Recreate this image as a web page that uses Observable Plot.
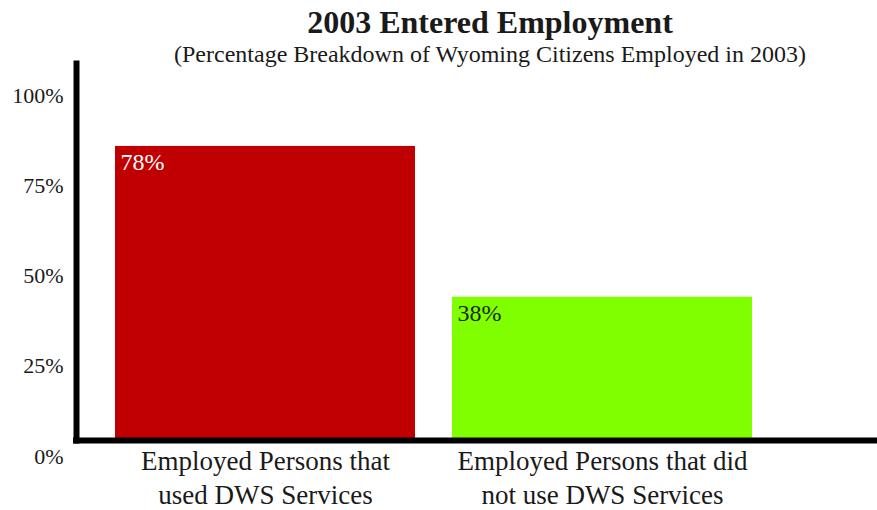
<!DOCTYPE html>
<html>
<head>
<meta charset="utf-8">
<script src="https://cdn.jsdelivr.net/npm/d3@7"></script>
<script src="https://cdn.jsdelivr.net/npm/@observablehq/plot@0.6"></script>
<style>
  body { margin: 0; background: #fff; }
  #wrap { position: relative; width: 877px; height: 510px; font-family: "Liberation Serif", "DejaVu Serif", serif; color: #1a1a1a; }
  #wrap svg { position: absolute; left: 0; top: 0; }
  .title { position: absolute; z-index: 2; left: 490px; transform: translateX(-50%); white-space: nowrap; line-height: 1; }
  #t1 { top: 6px; font-size: 32px; font-weight: bold; }
  #t2 { top: 42px; font-size: 24px; }
</style>
</head>
<body>
<div id="wrap">
  <div class="title" id="t1">2003 Entered Employment</div>
  <div class="title" id="t2">(Percentage Breakdown of Wyoming Citizens Employed in 2003)</div>
</div>
<script>
// ---- data ----
const categories = ["Employed Persons that used DWS Services", "Employed Persons that did not use DWS Services"];
const xTickLabels = ["Employed Persons that\nused DWS Services", "Employed Persons that did\nnot use DWS Services"];
const values = [78, 38];
const valueLabels = ["78%", "38%"];
const yTicks = [0, 25, 50, 75, 100];
const yTickLabels = ["0%", "25%", "50%", "75%", "100%"];

const data = categories.map((c, i) => ({category: c, value: values[i], label: valueLabels[i]}));
const wrap = document.getElementById("wrap");

const main = Plot.plot({
  width: 877,
  height: 510,
  marginLeft: 76,
  marginRight: 0,
  marginTop: 63,
  marginBottom: 70,
  style: {fontFamily: "Liberation Serif", fontSize: "24px", color: "#1a1a1a", background: "white"},
  x: {domain: categories, range: [115, 752], paddingInner: 0.11, paddingOuter: 0, label: null},
  y: {domain: [0, 100], range: [440, 63], axis: null},
  color: {domain: categories, range: ["#c00000", "#80ff00"]},
  marks: [
    Plot.barY(data, {x: "category", y: "value", fill: "category"}),
    Plot.text(data, {
      x: "category", y: "value", text: "label",
      textAnchor: "start", lineAnchor: "top", dx: -145, dy: 7,
      fontSize: 24,
      fill: d => d.category === categories[0] ? "#ffffff" : "#1a2a00"
    }),
    Plot.frame({anchor: "left", stroke: "#000", strokeWidth: 6}),
    Plot.ruleY([0], {stroke: "#000", strokeWidth: 6, strokeLinecap: "square"}),
    Plot.axisX({
      tickSize: 0, tickPadding: 5, fontSize: 27, lineHeight: 1.27, label: null,
      tickFormat: d => xTickLabels[categories.indexOf(d)]
    })
  ]
});
wrap.insertBefore(main, wrap.firstChild);

const yAxisPlot = Plot.plot({
  width: 877,
  height: 510,
  marginLeft: 76,
  marginRight: 0,
  marginTop: 63,
  marginBottom: 50,
  style: {fontFamily: "Liberation Serif", fontSize: "22px", color: "#1a1a1a", background: "transparent"},
  y: {domain: [0, 100], range: [456, 95], label: null},
  marks: [
    Plot.axisY({
      ticks: yTicks, tickSize: 0, tickPadding: 13, fontSize: 22, label: null,
      tickFormat: d => yTickLabels[yTicks.indexOf(d)]
    })
  ]
});
yAxisPlot.style.pointerEvents = "none";
wrap.insertBefore(yAxisPlot, main.nextSibling);
</script>
</body>
</html>
